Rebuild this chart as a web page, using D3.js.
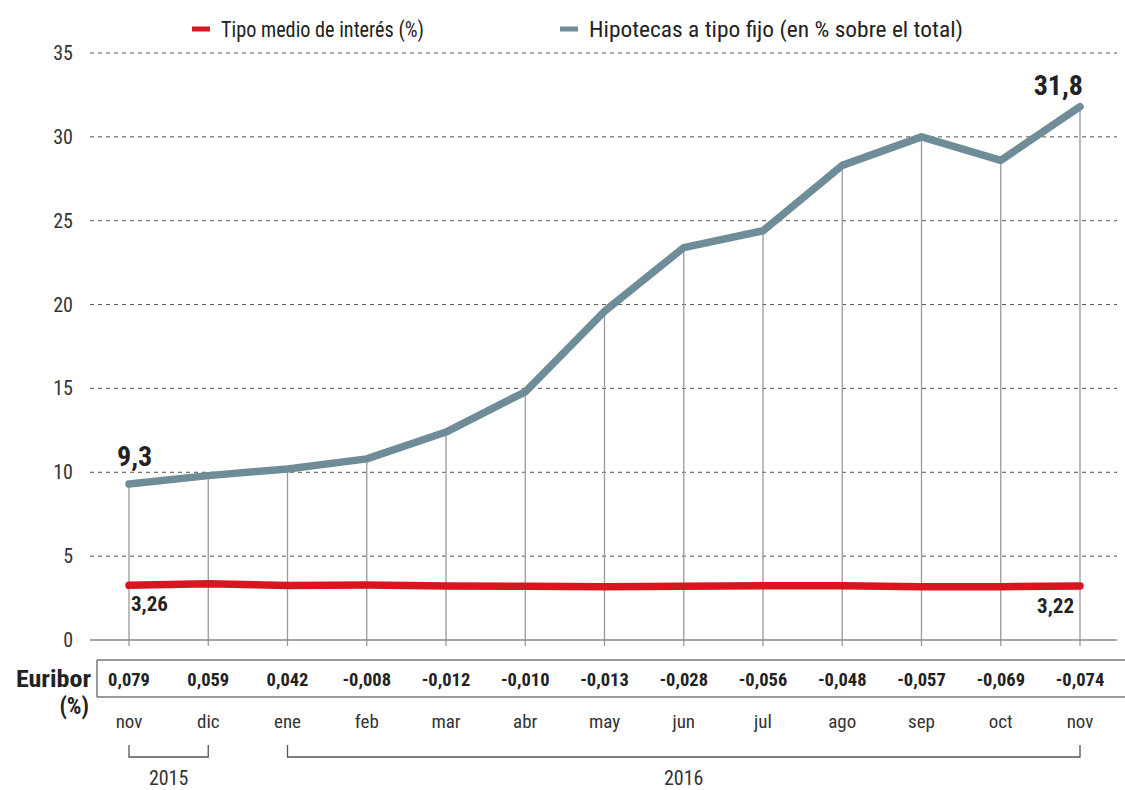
<!DOCTYPE html>
<html><head><meta charset="utf-8">
<script src="https://cdn.jsdelivr.net/npm/d3@7"></script>
<style>
body{margin:0;background:#fff;}
text{font-family:"Roboto Condensed","Liberation Sans Narrow","DejaVu Sans Condensed","Roboto",sans-serif;font-stretch:condensed;}
</style></head>
<body><svg id="c" width="1125" height="790"></svg>
<script>
const months = ["nov","dic","ene","feb","mar","abr","may","jun","jul","ago","sep","oct","nov"];
const tipoMedio = [3.26,3.35,3.25,3.28,3.22,3.20,3.18,3.20,3.24,3.24,3.17,3.18,3.22];
const tipoFijo = [9.3,9.8,10.2,10.8,12.4,14.8,19.6,23.4,24.4,28.3,30.0,28.6,31.8];
const euribor = ["0,079","0,059","0,042","-0,008","-0,012","-0,010","-0,013","-0,028","-0,056","-0,048","-0,057","-0,069","-0,074"];
const yTicks = [0,5,10,15,20,25,30,35];
const years = [{label:"2015",from:0,to:1},{label:"2016",from:2,to:12}];
const legendItems = [{label:"Tipo medio de interés (%)",color:"#d8161f"},{label:"Hipotecas a tipo fijo (en % sobre el total)",color:"#6f8c99"}];

const svg = d3.select("#c");
const x = d3.scalePoint().domain(d3.range(months.length)).range([129,1080]);
const y = d3.scaleLinear().domain([0,35]).range([640,53]);

// gridlines
svg.append("g").selectAll("line").data(yTicks.filter(d=>d>0)).join("line")
  .attr("x1",90).attr("x2",1117).attr("y1",d=>y(d)).attr("y2",d=>y(d))
  .attr("stroke","#555").attr("stroke-width",1).attr("stroke-dasharray","4,4");
// y labels
svg.append("g").selectAll("text").data(yTicks).join("text")
  .attr("x",73).attr("y",d=>y(d)+7).attr("text-anchor","end")
  .attr("font-size",20).attr("fill","#333").text(d=>d);
// vertical drop lines
svg.append("g").selectAll("line").data(tipoFijo).join("line")
  .attr("x1",(d,i)=>x(i)).attr("x2",(d,i)=>x(i)).attr("y1",d=>y(d)).attr("y2",646)
  .attr("stroke","#999").attr("stroke-width",1.3);
// baseline
svg.append("line").attr("x1",90).attr("x2",1117).attr("y1",y(0)).attr("y2",y(0))
  .attr("stroke","#888").attr("stroke-width",1.5);

const line = d3.line().x((d,i)=>x(i)).y(d=>y(d));
svg.append("path").datum(tipoFijo).attr("d",line).attr("fill","none")
  .attr("stroke","#6f8c99").attr("stroke-width",7.5).attr("stroke-linecap","round").attr("stroke-linejoin","round");
svg.append("path").datum(tipoMedio).attr("d",line).attr("fill","none")
  .attr("stroke","#d8161f").attr("stroke-width",7.5).attr("stroke-linecap","round").attr("stroke-linejoin","round");

// value labels
const fmt = v => String(v).replace(".",",");
const n = months.length-1;
svg.append("text").attr("x",x(0)-12).attr("y",y(tipoFijo[0])-18).attr("font-size",28).attr("font-weight","bold").attr("fill","#222").text(fmt(tipoFijo[0]));
svg.append("text").attr("x",x(n)+3).attr("y",y(tipoFijo[n])-12).attr("text-anchor","end").attr("font-size",28).attr("font-weight","bold").attr("fill","#222").text(fmt(tipoFijo[n]));
svg.append("text").attr("x",x(0)+2).attr("y",y(tipoMedio[0])+26).attr("font-size",21).attr("font-weight","bold").attr("fill","#222").text(fmt(tipoMedio[0]));
svg.append("text").attr("x",x(n)-6).attr("y",y(tipoMedio[n])+27).attr("text-anchor","end").attr("font-size",21).attr("font-weight","bold").attr("fill","#222").text(fmt(tipoMedio[n]));

// Euribor box
svg.append("line").attr("x1",97).attr("x2",1125).attr("y1",660).attr("y2",660).attr("stroke","#777").attr("stroke-width",1.5);
svg.append("line").attr("x1",97).attr("x2",1125).attr("y1",697).attr("y2",697).attr("stroke","#777").attr("stroke-width",1.5);
svg.append("line").attr("x1",97).attr("x2",97).attr("y1",660).attr("y2",697).attr("stroke","#777").attr("stroke-width",1.5);
svg.append("g").selectAll("text").data(euribor).join("text")
  .attr("x",(d,i)=>x(i)).attr("y",686).attr("text-anchor","middle")
  .attr("font-size",18.5).attr("font-weight","bold").attr("fill","#222").text(d=>d);
svg.append("text").attr("x",91).attr("y",687).attr("text-anchor","end").attr("font-size",23).attr("font-weight","bold").attr("fill","#222")
  .attr("textLength",75).attr("lengthAdjust","spacingAndGlyphs").text("Euribor");
svg.append("text").attr("x",89).attr("y",714).attr("text-anchor","end").attr("font-size",23).attr("font-weight","bold").attr("fill","#222").text("(%)");

// month labels
svg.append("g").selectAll("text").data(months).join("text")
  .attr("x",(d,i)=>x(i)).attr("y",728).attr("text-anchor","middle")
  .attr("font-size",19).attr("fill","#333").text(d=>d);

// year brackets
const yb = svg.append("g").selectAll("g").data(years).join("g");
yb.append("path").attr("d",d=>`M${x(d.from)},745V757H${x(d.to)}V745`).attr("fill","none").attr("stroke","#555").attr("stroke-width",1.3);
yb.append("text").attr("x",d=>(x(d.from)+x(d.to))/2).attr("y",785).attr("text-anchor","middle")
  .attr("font-size",20).attr("fill","#333").text(d=>d.label);

// legend
const lg = svg.append("g");
const lx = [192,560];
const lw = [203,374];
legendItems.forEach((d,i)=>{
  lg.append("line").attr("x1",lx[i]).attr("x2",lx[i]+18).attr("y1",29).attr("y2",29).attr("stroke",d.color).attr("stroke-width",5);
  lg.append("text").attr("x",lx[i]+29).attr("y",37).attr("font-size",22).attr("fill","#222")
    .attr("textLength",lw[i]).attr("lengthAdjust","spacingAndGlyphs").text(d.label);
});
</script></body></html>
